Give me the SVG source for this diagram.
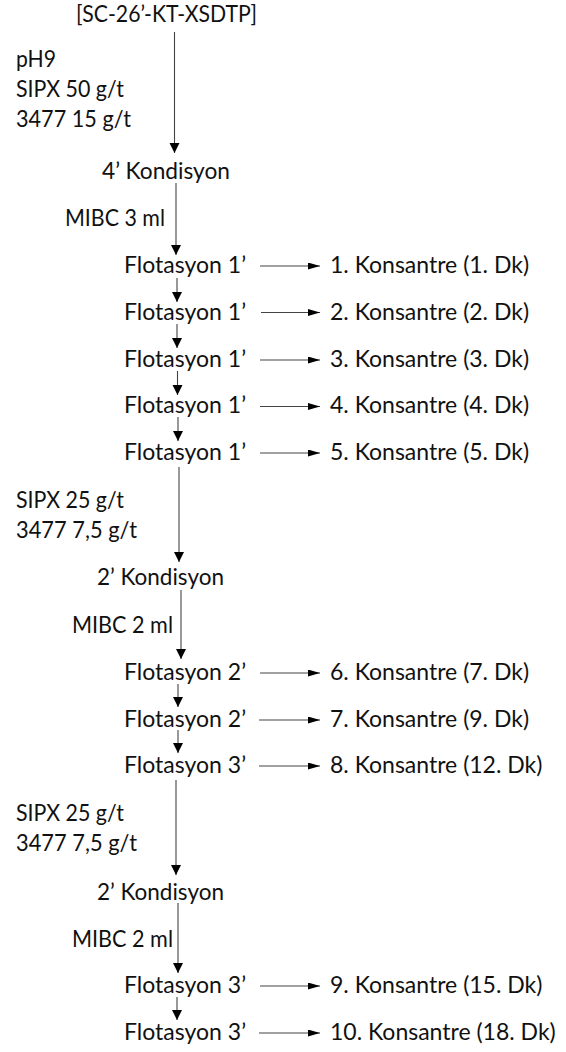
<svg xmlns="http://www.w3.org/2000/svg" width="566" height="1052" viewBox="0 0 566 1052">
<style>
text{font-family:Lato,"Open Sans","Liberation Sans",sans-serif;font-size:23px;fill:#111}
.c line{stroke:#444;stroke-width:1.1}
.v{marker-end:url(#aV)}
.h{marker-end:url(#aH)}
</style>
<defs>
<marker id="aV" markerUnits="userSpaceOnUse" markerWidth="10" markerHeight="11" refX="10" refY="5" orient="auto" viewBox="0 0 10 10"><path d="M0,0 L10,5 L0,10 Z" fill="#000"/></marker>
<marker id="aH" markerUnits="userSpaceOnUse" markerWidth="12" markerHeight="7" refX="12" refY="3.5" orient="auto" viewBox="0 0 12 7"><path d="M0,0 L12,3.5 L0,7 Z" fill="#000"/></marker>
</defs>
<rect width="566" height="1052" fill="#fff"/>
<g id="connectors" class="c">
<line class="v" x1="174.5" y1="32" x2="174.5" y2="153"/>
<line class="v" x1="176" y1="183" x2="176" y2="255"/>
<line class="v" x1="177" y1="278" x2="177" y2="302"/>
<line class="v" x1="177" y1="324" x2="177" y2="348"/>
<line class="v" x1="177.5" y1="371" x2="177.5" y2="395"/>
<line class="v" x1="178" y1="417" x2="178" y2="441"/>
<line class="v" x1="179" y1="467" x2="179" y2="562"/>
<line class="v" x1="181" y1="590" x2="181" y2="659"/>
<line class="v" x1="178" y1="684" x2="178" y2="707"/>
<line class="v" x1="178" y1="730" x2="178" y2="753"/>
<line class="v" x1="176" y1="780" x2="176" y2="875"/>
<line class="v" x1="178" y1="903" x2="178" y2="973"/>
<line class="v" x1="177" y1="997" x2="177" y2="1020"/>
<line class="h" x1="260" y1="266" x2="320" y2="266"/>
<line class="h" x1="261" y1="312.5" x2="320" y2="312.5"/>
<line class="h" x1="260" y1="360" x2="320" y2="360"/>
<line class="h" x1="260" y1="406.5" x2="320" y2="406.5"/>
<line class="h" x1="260" y1="453" x2="320" y2="453"/>
<line class="h" x1="260" y1="673" x2="320" y2="673"/>
<line class="h" x1="259" y1="720" x2="320" y2="720"/>
<line class="h" x1="259" y1="766" x2="320" y2="766"/>
<line class="h" x1="260" y1="986" x2="320" y2="986"/>
<line class="h" x1="259" y1="1033" x2="320" y2="1033"/>
</g>
<g id="n-start"><text x="76" y="22" textLength="181" lengthAdjust="spacingAndGlyphs">[SC-26’-KT-XSDTP]</text></g>
<g id="n-reag1"><text x="16" y="67" textLength="40" lengthAdjust="spacingAndGlyphs">pH9</text><text x="16" y="97" textLength="108" lengthAdjust="spacingAndGlyphs">SIPX 50 g/t</text><text x="16" y="127" textLength="115" lengthAdjust="spacingAndGlyphs">3477 15 g/t</text></g>
<g id="n-kond1"><text x="102" y="179" textLength="128" lengthAdjust="spacingAndGlyphs">4’ Kondisyon</text></g>
<g id="n-mibc1"><text x="65" y="226" textLength="100" lengthAdjust="spacingAndGlyphs">MIBC 3 ml</text></g>
<g id="n-f1"><text x="124" y="273">Flotasyon 1’</text></g>
<g id="n-k1"><text x="330" y="273">1. Konsantre (1. Dk)</text></g>
<g id="n-f2"><text x="124" y="319.5">Flotasyon 1’</text></g>
<g id="n-k2"><text x="330" y="319.5">2. Konsantre (2. Dk)</text></g>
<g id="n-f3"><text x="124" y="366.5">Flotasyon 1’</text></g>
<g id="n-k3"><text x="330" y="366.5">3. Konsantre (3. Dk)</text></g>
<g id="n-f4"><text x="124" y="413">Flotasyon 1’</text></g>
<g id="n-k4"><text x="330" y="413">4. Konsantre (4. Dk)</text></g>
<g id="n-f5"><text x="124" y="459.5">Flotasyon 1’</text></g>
<g id="n-k5"><text x="330" y="459.5">5. Konsantre (5. Dk)</text></g>
<g id="n-reag2"><text x="16" y="508" textLength="108" lengthAdjust="spacingAndGlyphs">SIPX 25 g/t</text><text x="16" y="538" textLength="121" lengthAdjust="spacingAndGlyphs">3477 7,5 g/t</text></g>
<g id="n-kond2"><text x="97" y="585" textLength="127" lengthAdjust="spacingAndGlyphs">2’ Kondisyon</text></g>
<g id="n-mibc2"><text x="72" y="633" textLength="101" lengthAdjust="spacingAndGlyphs">MIBC 2 ml</text></g>
<g id="n-f6"><text x="124" y="680">Flotasyon 2’</text></g>
<g id="n-k6"><text x="330" y="680">6. Konsantre (7. Dk)</text></g>
<g id="n-f7"><text x="124" y="727">Flotasyon 2’</text></g>
<g id="n-k7"><text x="330" y="727">7. Konsantre (9. Dk)</text></g>
<g id="n-f8"><text x="124" y="773">Flotasyon 3’</text></g>
<g id="n-k8"><text x="330" y="773">8. Konsantre (12. Dk)</text></g>
<g id="n-reag3"><text x="16" y="821" textLength="108" lengthAdjust="spacingAndGlyphs">SIPX 25 g/t</text><text x="16" y="851" textLength="121" lengthAdjust="spacingAndGlyphs">3477 7,5 g/t</text></g>
<g id="n-kond3"><text x="97" y="900" textLength="127" lengthAdjust="spacingAndGlyphs">2’ Kondisyon</text></g>
<g id="n-mibc3"><text x="72" y="947" textLength="101" lengthAdjust="spacingAndGlyphs">MIBC 2 ml</text></g>
<g id="n-f9"><text x="124" y="993">Flotasyon 3’</text></g>
<g id="n-k9"><text x="330" y="993">9. Konsantre (15. Dk)</text></g>
<g id="n-f10"><text x="124" y="1040">Flotasyon 3’</text></g>
<g id="n-k10"><text x="330" y="1040">10. Konsantre (18. Dk)</text></g>
</svg>
